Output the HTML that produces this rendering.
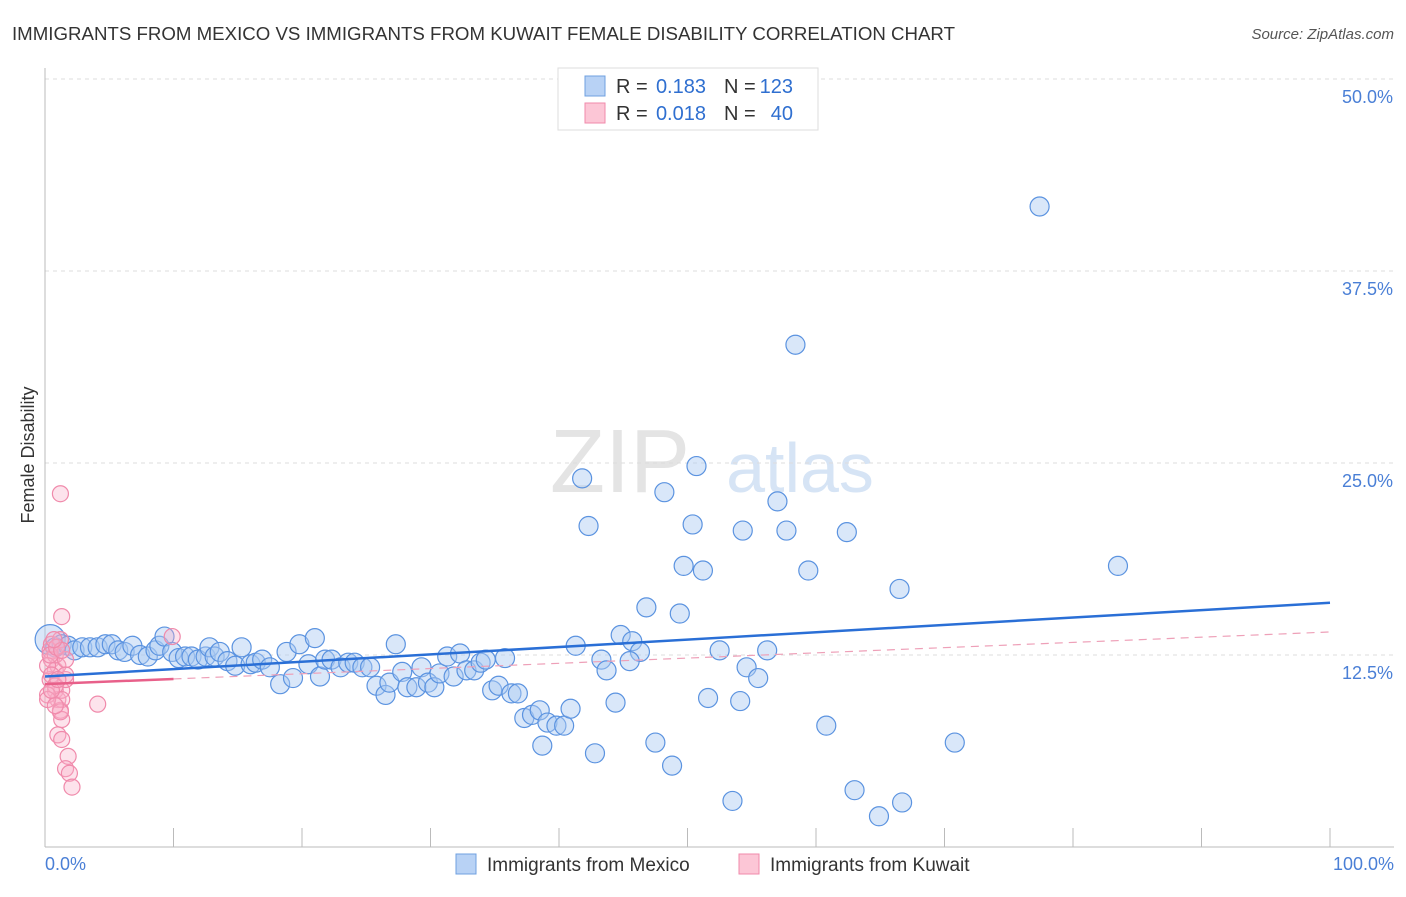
<!DOCTYPE html>
<html><head><meta charset="utf-8"><style>
body{margin:0;background:#fff;font-family:"Liberation Sans",sans-serif;}
svg text{font-family:"Liberation Sans",sans-serif;}
</style></head><body>
<svg width="1406" height="892">
<text x="12" y="40" font-size="18" fill="#333" textLength="943" lengthAdjust="spacingAndGlyphs">IMMIGRANTS FROM MEXICO VS IMMIGRANTS FROM KUWAIT FEMALE DISABILITY CORRELATION CHART</text>
<text x="1394" y="39" font-size="15" fill="#555" font-style="italic" text-anchor="end">Source: ZipAtlas.com</text>
<text x="620" y="492" font-size="90" fill="#e4e4e4" font-family="Liberation Serif" text-anchor="middle">ZIP</text>
<text x="800" y="492" font-size="70" fill="#d6e4f5" text-anchor="middle">atlas</text>
<g id="grid"></g><g id="axes"></g><g id="pts"></g><g id="trend"></g>
<text transform="translate(34,455) rotate(-90)" font-size="18" fill="#333" text-anchor="middle">Female Disability</text>
<text x="45" y="870" font-size="18" fill="#4a7fd6">0.0%</text>
<text x="1394" y="870" font-size="18" fill="#4a7fd6" text-anchor="end">100.0%</text>
<g>
<rect x="558" y="68" width="260" height="62" fill="#fff" stroke="#ddd"/>
<rect x="585" y="76" width="20" height="20" fill="#b8d2f5" stroke="#6fa0e0"/>
<rect x="585" y="103" width="20" height="20" fill="#fcc6d6" stroke="#f08aab"/>
<text x="616" y="93" font-size="20" fill="#333">R =</text>
<text x="706" y="93" font-size="20" fill="#2f6fd0" text-anchor="end">0.183</text>
<text x="724" y="93" font-size="20" fill="#333">N =</text>
<text x="793" y="93" font-size="20" fill="#2f6fd0" text-anchor="end">123</text>
<text x="616" y="120" font-size="20" fill="#333">R =</text>
<text x="706" y="120" font-size="20" fill="#2f6fd0" text-anchor="end">0.018</text>
<text x="724" y="120" font-size="20" fill="#333">N =</text>
<text x="793" y="120" font-size="20" fill="#2f6fd0" text-anchor="end">40</text>
</g>
<g>
<rect x="456" y="854" width="20" height="20" fill="#b8d2f5" stroke="#6fa0e0"/>
<text x="487" y="871" font-size="19" fill="#333">Immigrants from Mexico</text>
<rect x="739" y="854" width="20" height="20" fill="#fcc6d6" stroke="#f08aab"/>
<text x="770" y="871" font-size="19" fill="#333">Immigrants from Kuwait</text>
</g>
</svg>
<script>
const yTicks=[12.5,25,37.5,50];
const yTickLabels=["12.5%","25.0%","37.5%","50.0%"];
const xTicks=[0,10,20,30,40,50,60,70,80,90,100];
const mexicoX=[77.4,58.4,41.8,50.7,48.2,57.0,42.3,50.4,54.3,57.7,62.4,49.7,51.2,59.4,83.5,66.5,46.8,49.4,44.8,45.7,41.3,46.3,52.5,56.2,43.3,45.5,54.6,43.7,55.5,44.4,51.6,54.1,60.8,70.8,38.7,42.8,47.5,48.8,53.5,63.0,66.7,64.9,
0.4,0.8,1.3,1.8,2.3,2.9,3.5,4.1,4.7,5.2,5.7,6.2,6.8,7.4,8.0,8.6,8.9,9.3,9.9,10.4,10.9,11.4,11.9,12.5,12.8,13.2,13.6,14.2,14.8,15.3,16.0,16.4,16.9,17.5,18.3,18.8,19.3,19.8,20.5,21.0,21.4,21.8,22.3,23.0,23.6,24.1,24.7,25.3,25.8,26.5,26.8,27.3,27.8,28.2,28.9,29.3,29.8,30.3,30.7,31.3,31.8,32.3,32.8,33.4,33.9,34.3,34.8,35.3,35.8,36.3,36.8,37.3,37.9,38.5,39.1,39.8,40.4,40.9];
const mexicoY=[41.7,32.7,24.0,24.8,23.1,22.5,20.9,21.0,20.6,20.6,20.5,18.3,18.0,18.0,18.3,16.8,15.6,15.2,13.8,13.4,13.1,12.7,12.8,12.8,12.2,12.1,11.7,11.5,11.0,9.4,9.7,9.5,7.9,6.8,6.6,6.1,6.8,5.3,3.0,3.7,2.9,2.0,
13.5,13.0,13.2,13.1,12.8,13.0,13.0,13.0,13.2,13.2,12.8,12.7,13.1,12.5,12.4,12.8,13.1,13.7,12.7,12.3,12.4,12.4,12.2,12.4,13.0,12.4,12.7,12.1,11.8,13.0,11.9,12.0,12.2,11.7,10.6,12.7,11.0,13.2,11.9,13.6,11.1,12.2,12.2,11.7,12.0,12.0,11.7,11.7,10.5,9.9,10.7,13.2,11.4,10.4,10.4,11.7,10.7,10.4,11.3,12.4,11.1,12.6,11.5,11.5,12.0,12.2,10.2,10.5,12.3,10.0,10.0,8.4,8.6,8.9,8.1,7.9,7.9,9.0];
const kuwaitX=[1.2,1.3,9.9,4.1,0.4,0.5,0.8,0.4,0.8,1.0,1.2,1.3,1.6,1.0,0.8,0.5,1.2,1.3,1.0,1.3,1.8,1.6,1.9,2.1,0.2,0.5,0.8,0.2,1.3,1.6,0.4,0.9,1.2,0.2,0.8,1.6,0.5,1.0,1.3,0.7];
const kuwaitY=[23.0,15.0,13.7,9.3,12.8,12.2,11.5,10.9,10.2,9.6,8.9,10.2,10.9,11.8,12.5,13.2,13.5,8.3,7.3,7.0,5.9,5.1,4.8,3.9,11.8,11.2,10.5,9.9,9.6,12.2,12.5,13.0,8.8,9.6,9.2,11.2,10.2,10.9,12.8,13.5];
const mexicoTrend=[11.1,15.9];
const kuwaitTrend=[10.6,14.0];
const NS="http://www.w3.org/2000/svg";
const X=v=>45+v*12.85, Y=v=>847-v*15.36;
function mk(tag,parent,attrs){const e=document.createElementNS(NS,tag);for(const k in attrs)e.setAttribute(k,attrs[k]);document.getElementById(parent).appendChild(e);return e;}
yTicks.forEach((t,i)=>{
 const l=mk('line','grid',{x1:45,x2:1394,y1:Y(t),y2:Y(t),stroke:'#ddd','stroke-dasharray':'4,4'});
 
 
 const tx=mk('text','grid',{x:1393,y:Y(t)+24,'font-size':18,fill:'#4a7fd6','text-anchor':'end'});
 tx.textContent=yTickLabels[i];
 
 
});
const ax=mk('line','axes',{x1:45,x2:45,y1:68,y2:847,stroke:'#bbb'});


const bx=mk('line','axes',{x1:45,x2:1394,y1:847,y2:847,stroke:'#bbb'});


xTicks.forEach(t=>{const l=mk('line','axes',{x1:X(t),x2:X(t),y1:828,y2:847,stroke:'#bbb'});
 
 });
mexicoX.forEach((v,i)=>{const c=mk('circle','pts',{cx:X(v),cy:Y(mexicoY[i]),r:i===42?15:9.5,fill:'rgba(170,202,242,0.45)',stroke:'#5b93e0','stroke-width':1.2});
 
 });
kuwaitX.forEach((v,i)=>{const c=mk('circle','pts',{cx:X(v),cy:Y(kuwaitY[i]),r:8,fill:'rgba(248,175,200,0.35)',stroke:'#f08aab','stroke-width':1.2});
 
 });
const bt=mk('line','trend',{x1:X(0),y1:Y(mexicoTrend[0]),x2:X(100),y2:Y(mexicoTrend[1]),stroke:'#2a6fd6','stroke-width':2.5});


const kAt=x=>kuwaitTrend[0]+(kuwaitTrend[1]-kuwaitTrend[0])*x/100;
const pt=mk('line','trend',{x1:X(0),y1:Y(kAt(0)),x2:X(10),y2:Y(kAt(10)),stroke:'#e8608a','stroke-width':2.5});


const pd=mk('line','trend',{x1:X(10),y1:Y(kAt(10)),x2:X(100),y2:Y(kAt(100)),stroke:'#eea0b8','stroke-width':1.2,'stroke-dasharray':'8,6'});


</script>
</body></html>
